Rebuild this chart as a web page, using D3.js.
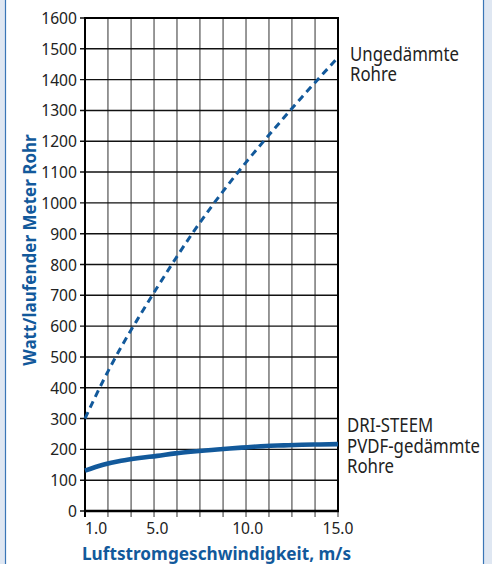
<!DOCTYPE html>
<html>
<head>
<meta charset="utf-8">
<script src="https://cdn.jsdelivr.net/npm/d3@7"></script>
<style>
  body { margin: 0; background: #dfe7f2; }
  svg { display: block; }
</style>
</head>
<body>
<div id="chart"></div>
<script>
// values
let speeds = [1, 2, 3, 4, 5, 6, 7, 8, 9, 10, 11, 12, 13, 14, 15]
let bare = [300, 422, 532, 631, 726, 818, 906, 988, 1065, 1138, 1208, 1276, 1343, 1408, 1472]
let insulated = [131, 150, 163, 172, 179, 187, 193, 198, 203, 207, 211, 213, 215, 216, 217]
let yTicks = [0, 100, 200, 300, 400, 500, 600, 700, 800, 900, 1000, 1100, 1200, 1300, 1400, 1500, 1600]
let xTicks = [1, 5, 10, 15]
let xLabels = ["1.0", "5.0", "10.0", "15.0"]
let xGrid = [1, 2.27, 3.55, 4.82, 6.09, 7.36, 8.64, 9.91, 11.18, 12.45, 13.73, 15]
let bareLabel = ["Ungedämmte", "Rohre"]
let insLabel = ["DRI-STEEM", "PVDF-gedämmte", "Rohre"]

const W = 492, H = 564
let margin = {top: 18, right: 154, bottom: 53, left: 85}
let blue = "#12599b"
let font = "'Noto Sans', sans-serif"

let svg = d3.select("#chart").append("svg")
    .attr("width", W)
    .attr("height", H)

// white panel with thin blue border
svg.append("rect")
    .attr("x", 5.5).attr("y", -2)
    .attr("width", 478).attr("height", H + 4)
    .attr("fill", "#fff")
    .attr("stroke", "#3a76b6")
    .attr("stroke-width", 1.2)

let x = d3.scaleLinear()
    .domain([1, 15])
    .range([margin.left, W - margin.right])
let y = d3.scaleLinear()
    .domain([0, 1600])
    .range([H - margin.bottom, margin.top])

// grid
svg.append("g")
    .selectAll("line")
    .data(xGrid)
    .enter().append("line")
    .attr("x1", d => x(d)).attr("x2", d => x(d))
    .attr("y1", y(1600)).attr("y2", y(0) + 6)
    .attr("stroke", "#444")
    .attr("stroke-width", 1.1)

svg.append("g")
    .selectAll("line")
    .data(yTicks)
    .enter().append("line")
    .attr("x1", x(1) - 5).attr("x2", x(15))
    .attr("y1", d => y(d)).attr("y2", d => y(d))
    .attr("stroke", "#111")
    .attr("stroke-width", 1.4)

// frame
svg.append("line").attr("x1", x(1)).attr("x2", x(15) + 1).attr("y1", y(1600)).attr("y2", y(1600))
    .attr("stroke", "#000").attr("stroke-width", 2.2)
svg.append("line").attr("x1", x(15)).attr("x2", x(15)).attr("y1", y(1600)).attr("y2", y(0))
    .attr("stroke", "#000").attr("stroke-width", 2)
svg.append("line").attr("x1", x(1)).attr("x2", x(1)).attr("y1", y(1600) - 1).attr("y2", y(0) + 6)
    .attr("stroke", "#000").attr("stroke-width", 2)
svg.append("line").attr("x1", x(1)).attr("x2", x(15) + 1).attr("y1", y(0)).attr("y2", y(0))
    .attr("stroke", "#000").attr("stroke-width", 2.6)

// tick labels
svg.append("g")
    .selectAll("text")
    .data(yTicks)
    .enter().append("text")
    .attr("transform", d => `translate(${x(1) - 8},${y(d) + 6}) scale(0.92,1)`)
    .attr("text-anchor", "end")
    .style("font-family", font)
    .style("font-size", "17px")
    .attr("fill", "#222")
    .text(d => d)

svg.append("g")
    .selectAll("text")
    .data(xTicks)
    .enter().append("text")
    .attr("transform", d => `translate(${x(d)},${y(0) + 23}) scale(0.92,1)`)
    .attr("text-anchor", (d, i) => i == 0 ? "start" : "middle")
    .style("font-family", font)
    .style("font-size", "17px")
    .attr("fill", "#222")
    .text((d, i) => xLabels[i])

// curves
let line = d3.line()
    .x((d, i) => x(speeds[i]))
    .y(d => y(d))
    .curve(d3.curveMonotoneX)

svg.append("path")
    .datum(bare)
    .attr("d", line)
    .attr("fill", "none")
    .attr("stroke", blue)
    .attr("stroke-width", 3)
    .attr("stroke-dasharray", "7,5")

svg.append("path")
    .datum(insulated)
    .attr("d", line)
    .attr("fill", "none")
    .attr("stroke", blue)
    .attr("stroke-width", 4.6)

// series labels
svg.append("g")
    .selectAll("text")
    .data(bareLabel)
    .enter().append("text")
    .attr("transform", (d, i) => `translate(350,${61 + i * 20}) scale(0.84,1)`)
    .style("font-family", font)
    .style("font-size", "20px")
    .attr("fill", "#222")
    .text(d => d)

svg.append("g")
    .selectAll("text")
    .data(insLabel)
    .enter().append("text")
    .attr("transform", (d, i) => `translate(347,${432 + i * 20.5}) scale(0.84,1)`)
    .style("font-family", font)
    .style("font-size", "20px")
    .attr("fill", "#222")
    .text(d => d)

// axis titles
svg.append("text")
    .attr("transform", `translate(82,560) scale(0.93,1)`)
    .style("font-family", font)
    .style("font-size", "18.5px")
    .style("font-weight", "bold")
    .attr("fill", blue)
    .text("Luftstromgeschwindigkeit, m/s")

svg.append("text")
    .attr("transform", `translate(36,250) rotate(-90) scale(0.92,1)`)
    .attr("text-anchor", "middle")
    .style("font-family", font)
    .style("font-size", "18.5px")
    .style("font-weight", "bold")
    .attr("fill", blue)
    .text("Watt/laufender Meter Rohr")
</script>
</body>
</html>
